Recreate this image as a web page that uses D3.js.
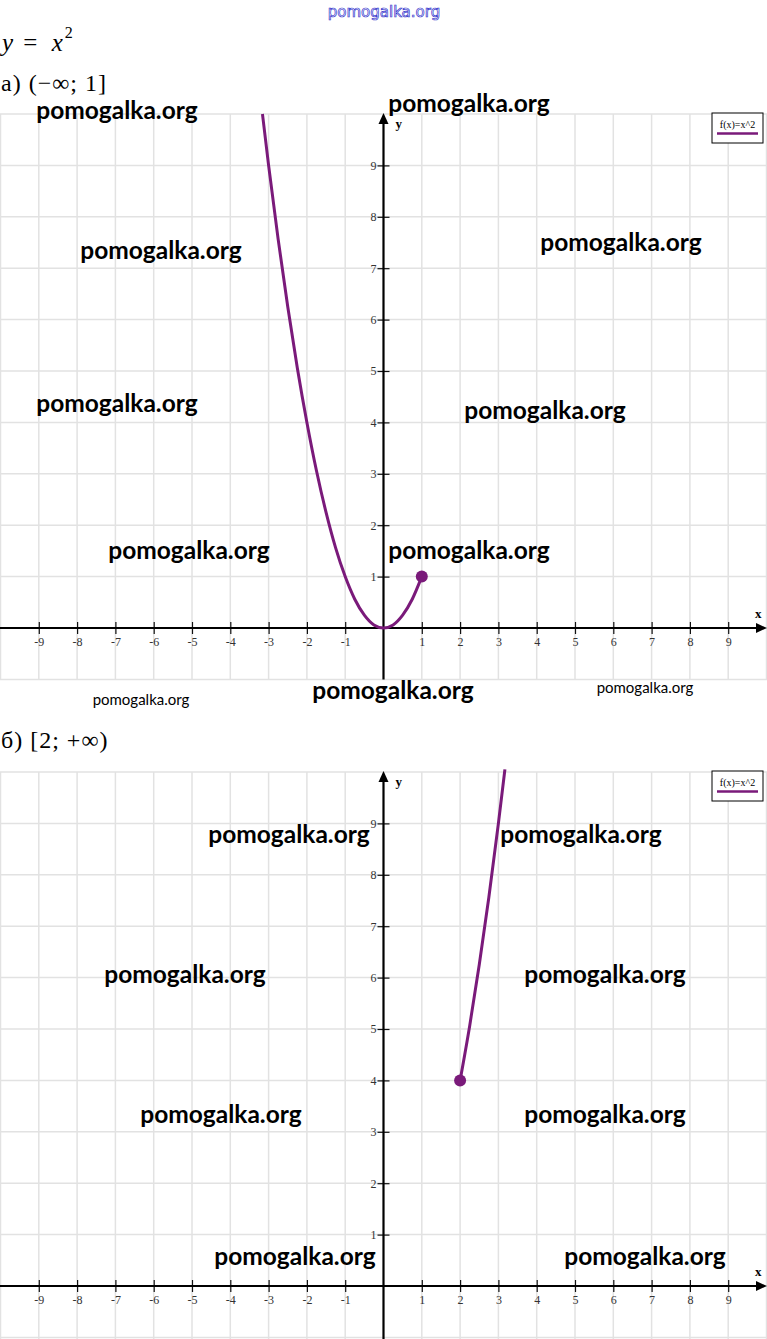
<!DOCTYPE html>
<html>
<head>
<meta charset="utf-8">
<script src="https://cdn.jsdelivr.net/npm/d3@7"></script>
<style>
body { margin:0; background:#fff; }
svg { display:block; }
</style>
</head>
<body>
<div id="chart"></div>
<script>
// tick values shown on both panels
var xTicks = [-9,-8,-7,-6,-5,-4,-3,-2,-1,1,2,3,4,5,6,7,8,9];
var yTicks = [1,2,3,4,5,6,7,8,9];
var gridX = [-10,-9,-8,-7,-6,-5,-4,-3,-2,-1,1,2,3,4,5,6,7,8,9,10];
var gridY = [-1,1,2,3,4,5,6,7,8,9,10];

// points, panel a) x <= 1
var curveAx = [-3.16,-3,-2.75,-2.5,-2.25,-2,-1.75,-1.5,-1.25,-1,-0.75,-0.5,-0.25,0,0.25,0.5,0.75,1];
var curveAy = [10,9,7.56,6.25,5.06,4,3.06,2.25,1.56,1,0.56,0.25,0.06,0,0.06,0.25,0.56,1];
// panel b) x >= 2
var curveBx = [2,2.25,2.5,2.75,3,3.17];
var curveBy = [4,5.06,6.25,7.56,9,10.05];

var legendText = "f(x)=x^2";
var marks = "pomogalka.org";

var W = 767, H = 1339;
var purple = "#7a1a7a";

var svg = d3.select("#chart").append("svg")
    .attr("width", W).attr("height", H);
svg.append("rect").attr("width", W).attr("height", H).attr("fill", "#fff");

var x = d3.scaleLinear().domain([-10, 10]).range([0.5, 766.5]);

function paint_panel(top0, yBottom, curveX, curveY, endPoint) {
	var y = d3.scaleLinear().domain([0, 10]).range([top0, top0 - 514]);
	var g = svg.append("g");

	// grid
	g.selectAll(".gx").data(gridX).enter().append("line")
	    .attr("x1", function(d) { return x(d); }).attr("x2", function(d) { return x(d); })
	    .attr("y1", y(10)).attr("y2", y(yBottom))
	    .attr("stroke", "#e2e2e2").attr("stroke-width", 1.5);
	g.selectAll(".gy").data(gridY.filter(function(d) { return d >= yBottom; })).enter().append("line")
	    .attr("x1", 0).attr("x2", W)
	    .attr("y1", function(d) { return y(d); }).attr("y2", function(d) { return y(d); })
	    .attr("stroke", "#e2e2e2").attr("stroke-width", 1.5);

	// x axis
	var xAxis = d3.axisBottom(x).tickValues(xTicks).tickSize(6).tickPadding(3)
	    .tickFormat(d3.format("d"));
	var gx = g.append("g").attr("transform", "translate(0," + y(0) + ")").call(xAxis);
	gx.select(".domain").remove();
	gx.selectAll("line").attr("y1", -6).attr("stroke", "#111").attr("stroke-width", 1.2);
	gx.selectAll("text").attr("font-family", "Liberation Serif, serif").attr("font-size", 12)
	    .attr("fill", "#333").text(function(d) { return d; });

	// y axis
	var yAxis = d3.axisLeft(y).tickValues(yTicks).tickSize(6).tickPadding(1)
	    .tickFormat(d3.format("d"));
	var gy = g.append("g").attr("transform", "translate(" + x(0) + ",0)").call(yAxis);
	gy.select(".domain").remove();
	gy.selectAll("line").attr("x1", 6).attr("stroke", "#111").attr("stroke-width", 1.2);
	gy.selectAll("text").attr("font-family", "Liberation Serif, serif").attr("font-size", 12)
	    .attr("fill", "#333");

	// axis lines + arrows
	g.append("line").attr("x1", 0).attr("x2", W - 8).attr("y1", y(0)).attr("y2", y(0))
	    .attr("stroke", "#000").attr("stroke-width", 2.2);
	g.append("path")
	    .attr("d", "M" + W + "," + y(0) + "L" + (W - 11) + "," + (y(0) - 5) + "L" + (W - 11) + "," + (y(0) + 5) + "Z")
	    .attr("fill", "#000");
	g.append("line").attr("x1", x(0)).attr("x2", x(0)).attr("y1", y(yBottom)).attr("y2", y(10) + 6)
	    .attr("stroke", "#000").attr("stroke-width", 2.2);
	g.append("path")
	    .attr("d", "M" + x(0) + "," + (y(10) - 1) + "L" + (x(0) - 5) + "," + (y(10) + 10) + "L" + (x(0) + 5) + "," + (y(10) + 10) + "Z")
	    .attr("fill", "#000");
	g.append("text").attr("x", x(0) + 12).attr("y", y(10) + 14)
	    .attr("font-family", "Liberation Serif, serif").attr("font-weight", "bold").attr("font-size", 13)
	    .text("y");
	g.append("text").attr("x", W - 12).attr("y", y(0) - 10)
	    .attr("font-family", "Liberation Serif, serif").attr("font-weight", "bold").attr("font-size", 13)
	    .text("x");

	// legend
	var lg = g.append("g").attr("transform", "translate(712," + (y(10) - 1) + ")");
	lg.append("rect").attr("width", 51).attr("height", 30).attr("fill", "#fff")
	    .attr("stroke", "#000").attr("stroke-width", 1);
	lg.append("text").attr("x", 25.5).attr("y", 15).attr("text-anchor", "middle")
	    .attr("font-family", "Liberation Serif, serif").attr("font-size", 10).text(legendText);
	lg.append("line").attr("x1", 5).attr("x2", 46).attr("y1", 20.5).attr("y2", 20.5)
	    .attr("stroke", purple).attr("stroke-width", 2.5);

	// curve
	var pts = curveX.map(function(d, i) { return [d, curveY[i]]; });
	g.append("path").datum(pts)
	    .attr("fill", "none").attr("stroke", purple).attr("stroke-width", 3)
	    .attr("d", d3.line().curve(d3.curveMonotoneX)
	        .x(function(d) { return x(d[0]); })
	        .y(function(d) { return y(d[1]); }));
	g.append("circle").attr("cx", x(endPoint[0])).attr("cy", y(endPoint[1])).attr("r", 6)
	    .attr("fill", purple);
}

paint_panel(628, -1, curveAx, curveAy, [1, 1]);
paint_panel(1286, -1.05, curveBx, curveBy, [2, 4]);

// headings
var serif = "Liberation Serif, Times New Roman, serif";
var t1 = svg.append("text").attr("x", 2).attr("y", 51).attr("font-family", serif).attr("font-size", 25);
t1.append("tspan").attr("font-style", "italic").text("y");
t1.append("tspan").text(" = ").attr("letter-spacing", 4);
t1.append("tspan").attr("font-style", "italic").text("x");
t1.append("tspan").attr("font-size", 16).attr("dy", -13).attr("dx", 2).text("2");
svg.append("text").attr("x", 1).attr("y", 91).attr("font-family", serif).attr("font-size", 24)
    .attr("letter-spacing", 1).text("а) (−∞; 1]");
svg.append("text").attr("x", 1).attr("y", 748).attr("font-family", serif).attr("font-size", 24)
    .attr("letter-spacing", 1).text("б) [2; +∞)");

// watermark on top
svg.append("text").attr("x", 384).attr("y", 17).attr("text-anchor", "middle")
    .attr("font-family", "DejaVu Sans, sans-serif").attr("font-size", 15)
    .attr("fill", "#fff").attr("stroke", "#3333cc").attr("stroke-width", 0.7)
    .text(marks);

// big watermarks: centre x, baseline y
var markX = [117, 469, 161, 621, 117, 545, 189, 469, 393, 289, 581, 185, 605, 221, 605, 295, 645];
var markY = [119, 112, 259, 251, 412, 419, 559, 559, 699, 843, 843, 983, 983, 1123, 1123, 1265, 1265];
var smallX = [141, 645];
var smallY = [705, 693];

svg.selectAll(".wm").data(markX).enter().append("text")
    .attr("x", function(d) { return d; })
    .attr("y", function(d, i) { return markY[i]; })
    .attr("text-anchor", "middle")
    .attr("font-family", "Lato, sans-serif").attr("font-weight", "bold").attr("font-size", 24.5)
    .attr("fill", "#000").text(marks);
svg.selectAll(".wms").data(smallX).enter().append("text")
    .attr("x", function(d) { return d; })
    .attr("y", function(d, i) { return smallY[i]; })
    .attr("text-anchor", "middle")
    .attr("font-family", "Lato, sans-serif").attr("font-size", 15)
    .attr("fill", "#000").text(marks);
</script>
</body>
</html>
